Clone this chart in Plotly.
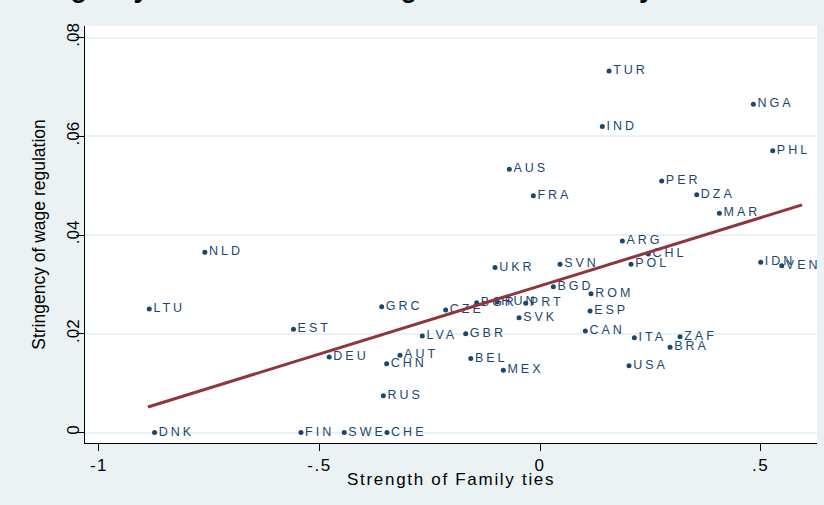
import plotly.graph_objects as go

# ---- data ----
codes = ["LTU", "NLD", "EST", "DNK", "FIN", "SWE", "CHE", "GRC", "CZE", "BGR", "HUN",
         "PRT", "SVK", "LVA", "GBR", "DEU", "AUT", "CHN", "RUS", "BEL", "MEX",
         "UKR", "SVN", "BGD", "ROM", "ESP", "CAN", "ARG", "CHL", "POL", "IDN", "VEN",
         "ITA", "ZAF", "BRA", "USA", "TUR", "NGA", "IND", "PHL", "AUS", "PER", "FRA",
         "DZA", "MAR"]
family_ties = [-0.886, -0.760, -0.559, -0.874, -0.542, -0.444, -0.347, -0.359, -0.214, -0.1436, -0.097,
               -0.0325, -0.0476, -0.267, -0.1685, -0.478, -0.3175, -0.3477, -0.3553, -0.157, -0.0832,
               -0.102, 0.0454, 0.0302, 0.1156, 0.1134, 0.1028, 0.1867, 0.2456, 0.2063, 0.5004, 0.548,
               0.2139, 0.3175, 0.2948, 0.2018, 0.1565, 0.4837, 0.1413, 0.5276, -0.0696, 0.2759, -0.0152,
               0.3553, 0.4066]
wage_regulation = [0.0250, 0.0365, 0.0209, 0.0, 0.0, 0.0, 0.0, 0.02548, 0.0248, 0.02630, 0.02645,
                   0.02617, 0.02326, 0.01954, 0.0200, 0.01529, 0.01563, 0.01393, 0.00746, 0.0150, 0.0126,
                   0.0334, 0.03406, 0.02953, 0.02811, 0.0246, 0.02056, 0.03878, 0.03615, 0.03406, 0.03447, 0.03378,
                   0.0192, 0.0194, 0.01725, 0.01353, 0.0732, 0.06647, 0.0620, 0.05708, 0.0533, 0.05094, 0.04797,
                   0.04817, 0.0444]
fit_x = [-0.889, 0.594]
fit_y = [0.00516, 0.0461]

x_ticks = [-1, -0.5, 0, 0.5]
x_tick_labels = ["-1", "-.5", "0", ".5"]
y_ticks = [0, 0.02, 0.04, 0.06, 0.08]
y_tick_labels = ["0", ".02", ".04", ".06", ".08"]

chart_title = "Stringency of Labor Market Regulation and Family Ties"
x_title = "Strength of Family ties"
y_title = "Stringency of wage regulation"

# ---- styling ----
BG = "#EAF2F3"
NAVY = "#1a476f"
MAROON = "#90353b"
FONT = "Liberation Sans, Arial, sans-serif"

def spaced(text, px):
    return f'<span style="letter-spacing:{px}px">{text}</span>'

fig = go.Figure()

fig.add_trace(go.Scatter(
    x=family_ties, y=wage_regulation, text=codes,
    mode="markers+text",
    texttemplate='<span style="letter-spacing:3px">%{text}</span>',
    textposition="middle right",
    textfont=dict(family=FONT, size=12.5, color=NAVY),
    marker=dict(size=5, color=NAVY),
    cliponaxis=False,
    showlegend=False, hoverinfo="skip",
))

fig.add_trace(go.Scatter(
    x=fit_x, y=fit_y, mode="lines",
    line=dict(color=MAROON, width=3),
    showlegend=False, hoverinfo="skip",
))

L, R, T, B = 85, 7, 26, 62
W, H = 824, 505
pw, ph = W - L - R, H - T - B

fig.update_layout(
    width=W, height=H,
    margin=dict(l=L, r=R, t=T, b=B, pad=0, autoexpand=False),
    paper_bgcolor=BG, plot_bgcolor="white",
    font=dict(family=FONT, color="black"),
    annotations=[
        dict(
            text="<b>" + chart_title + "</b>",
            xref="paper", yref="paper",
            x=(7 - L) / pw, xanchor="left",
            y=(ph + T - 5) / ph, yanchor="bottom",
            showarrow=False,
            font=dict(family=FONT, size=27, color="black"),
        ),
        dict(
            text=spaced(x_title, 1.7),
            xref="paper", yref="paper",
            x=0.5, xanchor="center",
            y=(ph + T - 480) / ph, yanchor="middle",
            showarrow=False,
            font=dict(family=FONT, size=17, color="black"),
        ),
    ],
)

fig.update_xaxes(
    range=[-1.0317, 0.628],
    tickvals=x_ticks, ticktext=[spaced(t, 1.5) for t in x_tick_labels],
    tickfont=dict(size=17, color="black"),
    showline=True, linecolor="black", linewidth=1,
    ticks="outside", ticklen=7, tickcolor="black",
    showgrid=False, zeroline=False,
)

fig.update_yaxes(
    range=[-0.002127, 0.08233],
    tickvals=y_ticks, ticktext=y_tick_labels,
    tickangle=-90,
    tickfont=dict(size=17, color="black"),
    showline=True, linecolor="black", linewidth=1,
    ticks="outside", ticklen=8, tickcolor="black",
    ticklabelstandoff=-10,
    showgrid=True, gridcolor=BG, gridwidth=1.5,
    zeroline=False,
    title=dict(text=y_title, font=dict(size=17.5, color="black"), standoff=14),
)

fig.write_html("out.html", config={"displayModeBar": False},
               post_script="document.body.style.margin='0';")
